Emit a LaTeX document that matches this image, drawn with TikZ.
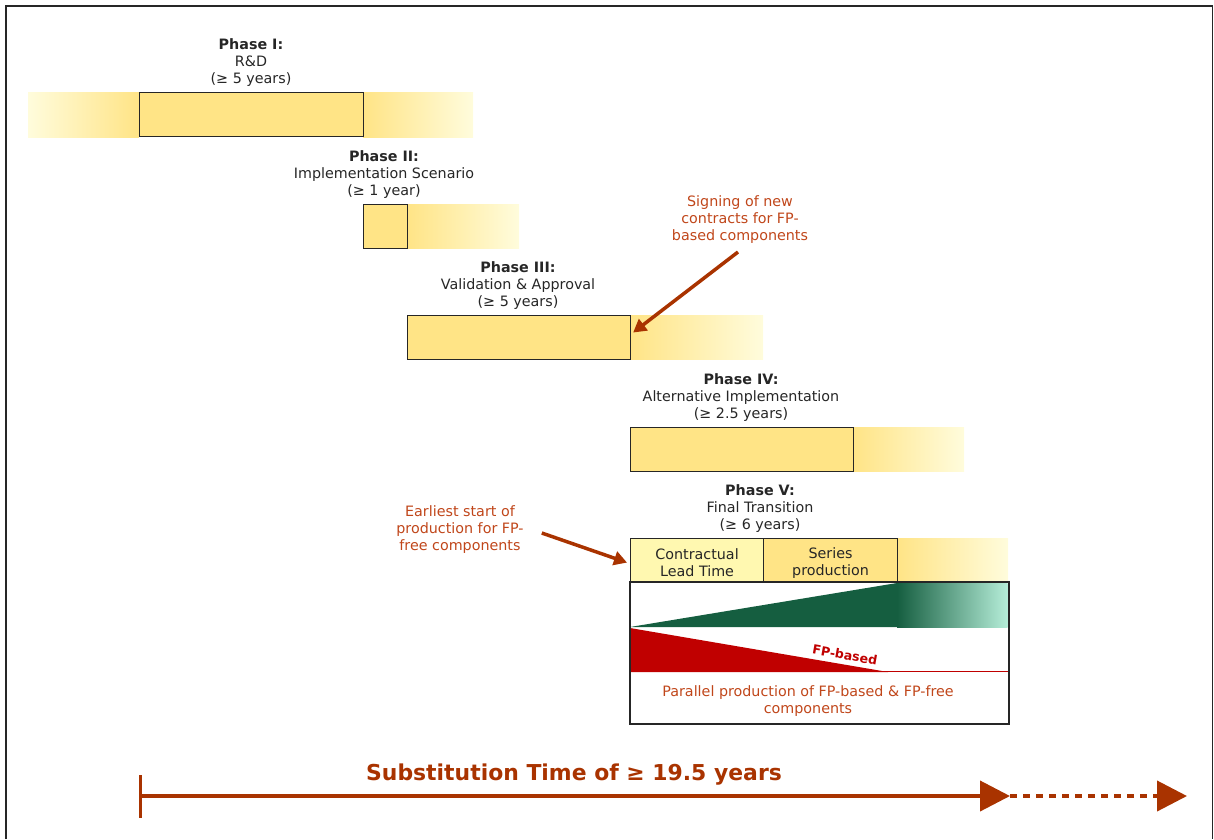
\documentclass[tikz,border=0pt]{standalone}
\usepackage{fontspec}
\setmainfont{DejaVu Sans}
\usetikzlibrary{arrows.meta}
\definecolor{boxy}{HTML}{FFE486}
\definecolor{paley}{HTML}{FFFCDC}
\definecolor{lighty}{HTML}{FFF8B0}
\definecolor{dgreen}{HTML}{155E40}
\definecolor{mint}{HTML}{B5EDD8}
\definecolor{fpred}{HTML}{C00000}
\definecolor{annot}{HTML}{C0461A}
\definecolor{arrowc}{HTML}{A93300}
\begin{document}
\begin{tikzpicture}[x=1pt,y=-1pt,
  phasebox/.style={draw=black!85, line width=1.1pt, fill=boxy, minimum height=44pt, inner sep=0pt, anchor=north west},
  ttl/.style={align=center, text=black!85, font=\fontsize{14.3}{17}\selectfont, anchor=south, inner sep=0pt},
  anno/.style={align=center, text=annot, font=\fontsize{14.3}{17}\selectfont, inner sep=0pt},
  annarrow/.style={draw=arrowc, line width=3.5pt, -{Triangle[length=13pt,width=14pt]}},
  fadeL/.style={left color=paley, middle color=paley!85!boxy, right color=boxy},
  fadeR/.style={left color=boxy, middle color=paley!80!boxy, right color=paley},
  boxtext/.style={align=center, text=black!85, font=\fontsize{14.3}{17}\selectfont},
]
\useasboundingbox (0,0) rectangle (1214,839);
% frame
\draw[line width=1.3pt, black!85] (6,839) -- (6,6) -- (1212.5,6) -- (1212.5,839);

% Phase I
\shade[fadeL] (28,92) rectangle (139,137);
\shade[fadeR] (363,92) rectangle (473,137);
\node[phasebox, minimum width=224pt] (p1) at (139,92) {};
\node[ttl] (t1) at (251,87) {\textbf{Phase I:}\\R\&D\\(≥ 5 years)};

% Phase II
\shade[fadeR] (407,204) rectangle (519,248);
\node[phasebox, minimum width=44pt] (p2) at (363,204) {};
\node[ttl] (t2) at (384,199) {\textbf{Phase II:}\\Implementation Scenario\\(≥ 1 year)};

% Phase III
\shade[fadeR] (630,315) rectangle (763,359);
\node[phasebox, minimum width=223pt] (p3) at (407,315) {};
\node[ttl] (t3) at (518,310) {\textbf{Phase III:}\\Validation \& Approval\\(≥ 5 years)};

% Phase IV
\shade[fadeR] (853,427) rectangle (964,471);
\node[phasebox, minimum width=223pt] (p4) at (630,427) {};
\node[ttl] (t4) at (741,422) {\textbf{Phase IV:}\\Alternative Implementation\\(≥ 2.5 years)};

% Phase V
\shade[fadeR] (897,538) rectangle (1008,582);
\node[phasebox, fill=lighty, minimum width=133pt] (cl) at (630,538) {};
\node[phasebox, minimum width=134pt] (sp) at (763,538) {};
\node[boxtext] (clt) at ([yshift=-2pt]cl.center) {Contractual\\Lead Time};
\node[boxtext] (spt) at ([yshift=-2pt]sp.center) {Series\\production};
\node[ttl] (t5) at (760,533) {\textbf{Phase V:}\\Final Transition\\(≥ 6 years)};

% lower box
\node[draw=black!85, line width=1.1pt, minimum width=378pt, minimum height=141pt, anchor=north west, inner sep=0pt] (lower) at (630,582) {};
\fill[dgreen] (630,627) -- (897,583) -- (897,627) -- cycle;
\shade[left color=dgreen, right color=mint] (897,583) rectangle (1007.5,627);
\fill[fpred] (630,628) -- (888,672) -- (630,672) -- cycle;
\draw[fpred, line width=1.2pt] (630,671.5) -- (1007.5,671.5);
\node[text=fpred, font=\bfseries\fontsize{12.6}{14}\selectfont, rotate=-10, inner sep=0pt] (fp) at (845,655) {FP-based};
\node[anno] (par) at (808,701) {Parallel production of FP-based \& FP-free\\components};
\draw[black!85, line width=1.1pt] (lower.north west) rectangle (lower.south east);

% annotations
\node[anno] (sign) at (740,220) {Signing of new\\contracts for FP-\\based components};
\draw[annarrow] (738,252) -- ([xshift=2pt,yshift=5pt]p3.east);
\node[anno] (earl) at (460,530) {Earliest start of\\production for FP-\\free components};
\draw[annarrow] ([xshift=18pt,yshift=-3pt]earl.east) -- ([xshift=-3pt,yshift=-2pt]cl.west);

% substitution time axis
\coordinate (s0) at (140,796);
\coordinate (s1) at (1010,796);
\coordinate (s2) at (1187,796);
\draw[arrowc, line width=3pt] (140,775) -- (140,818);
\draw[arrowc, line width=4pt, -{Triangle[length=30pt,width=30pt]}] (s0) -- (s1);
\draw[arrowc, line width=4pt, dash pattern=on 7pt off 6pt, -{Triangle[length=30pt,width=30pt]}] (s1) -- (s2);
\node[text=arrowc, font=\bfseries\fontsize{21.9}{24}\selectfont] (subst) at (574,775) {Substitution Time of ≥ 19.5 years};
\end{tikzpicture}
\end{document}
